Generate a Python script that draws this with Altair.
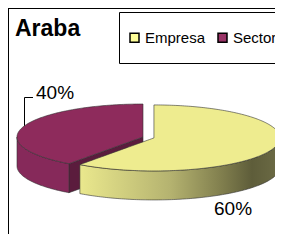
import numpy as np
import pandas as pd
import altair as alt

# ---- data ----
categories = ["Empresa", "Sector"]
shares = [60, 40]
labels = ["60%", "40%"]
chart_title = "Araba"

# ---- style ----
FONT = "Liberation Sans"
LEGEND_COLORS = ["#FFFF99", "#993366"]
TOP_COLORS = {"Empresa": "#EEEC8F", "Sector": "#8E2B5C"}
SIDE_FILLS = {
    "Empresa": alt.LinearGradient(
        gradient="linear", x1=0, x2=1, y1=0, y2=0,
        stops=[alt.GradientStop(color="#EAE88D", offset=0),
               alt.GradientStop(color="#B5B370", offset=0.45),
               alt.GradientStop(color="#7E7C4C", offset=0.72),
               alt.GradientStop(color="#5E5D3A", offset=0.86),
               alt.GradientStop(color="#6C6B45", offset=1)]),
    "Sector": "#86295A",
}
CUT_COLORS = {"Empresa": "#B8B670", "Sector": "#5B1C3D"}
EXPLODE = {"Empresa": 11.5, "Sector": 0.0}
CX, CY, A, B, DEPTH = 143.0, 137.0, 126.0, 33.0, 29.0
LABEL_POS = {"Empresa": (214, 215), "Sector": (36, 99)}
LEADER = {"Sector": (33.0, 97.5, 24.5)}   # text-end x, elbow y, elbow x
OUTLINE = "#333333"

W, H = 267, 226
xs_scale = alt.Scale(domain=[8, 8 + W], nice=False, zero=False)
ys_scale = alt.Scale(domain=[8, 8 + H], nice=False, zero=False, reverse=True)


def pt(cx, cy, phi):
    r = np.radians(phi)
    return cx + A * np.sin(r), cy - B * np.cos(r)


def arc(cx, cy, a0, a1):
    n = max(2, int(np.ceil(abs(a1 - a0))) + 1)
    ph = np.linspace(a0, a1, n)
    return pt(cx, cy, ph)


def envelope(px, py):
    n = len(px)
    xs = np.unique(np.concatenate([px, px - 0.01, px + 0.01]))
    xs = xs[(xs >= px.min()) & (xs <= px.max())]
    rows = []
    for x in xs:
        ys = []
        for i in range(n):
            x1, y1, x2, y2 = px[i], py[i], px[(i + 1) % n], py[(i + 1) % n]
            if x < min(x1, x2) - 1e-6 or x > max(x1, x2) + 1e-6:
                continue
            if abs(x2 - x1) < 1e-9:
                ys += [y1, y2]
            else:
                ys.append(y1 + (y2 - y1) * (x - x1) / (x2 - x1))
        if ys:
            rows.append((x, min(ys), max(ys)))
    return pd.DataFrame(rows, columns=["x", "y", "y2"])


def area_layer(df, fill):
    return alt.Chart(df).mark_area(
        color=fill, stroke=OUTLINE, strokeWidth=0.6, interpolate="linear"
    ).encode(
        x=alt.X("x:Q", scale=xs_scale, axis=None),
        y=alt.Y("y:Q", scale=ys_scale, axis=None),
        y2="y2:Q",
    )


# ---- slice geometry from shares ----
total = float(sum(shares))
start = 0.0
slices = []
for cat, v, lab in zip(categories, shares, labels):
    s, e = start, start + 360.0 * v / total
    start = e
    m = (s + e) / 2
    ex = EXPLODE[cat]
    cx = CX + ex * np.sin(np.radians(m))
    cy = CY - ex * np.cos(np.radians(m)) * B / A
    slices.append(dict(cat=cat, s=s, e=e, m=m, cx=cx, cy=cy, label=lab))

slices.sort(key=lambda d: -np.cos(np.radians(d["m"])))

layers = []

# frame and legend box
one = pd.DataFrame({"k": [0]})
layers.append(alt.Chart(one).mark_rule(color="black", strokeWidth=1).encode(
    x=alt.value(0.5), y=alt.value(0), y2=alt.value(H)))
layers.append(alt.Chart(one).mark_rule(color="black", strokeWidth=1).encode(
    y=alt.value(0.5), x=alt.value(0), x2=alt.value(W)))
layers.append(alt.Chart(one).mark_rect(fill="white", stroke="black", strokeWidth=1).encode(
    x=alt.value(111.5), x2=alt.value(W + 5), y=alt.value(4.5), y2=alt.value(55.5)))

for sl in slices:
    cat, s, e, cx, cy = sl["cat"], sl["s"], sl["e"], sl["cx"], sl["cy"]
    # visible cut faces
    for ang, vis in ((s, -np.sin(np.radians(s))), (e, np.sin(np.radians(e)))):
        if vis > 1e-6:
            px, py = pt(cx, cy, ang)
            df = pd.DataFrame({"x": [px, cx], "y": [py, cy]})
            df["y2"] = df["y"] + DEPTH
            layers.append(area_layer(df, CUT_COLORS[cat]))
    # outer side band (front half only)
    a0, a1 = max(s, 90.0), min(e, 270.0)
    if a1 > a0:
        px, py = arc(cx, cy, a0, a1)
        df = pd.DataFrame({"x": px, "y": py, "y2": py + DEPTH})
        layers.append(area_layer(df, SIDE_FILLS[cat]))
    # top face
    ax, ay = arc(cx, cy, s, e)
    px = np.concatenate([[cx], ax])
    py = np.concatenate([[cy], ay])
    layers.append(area_layer(envelope(px, py), TOP_COLORS[cat]))

# leader lines
lead_rows = []
for sl in slices:
    if sl["cat"] in LEADER:
        tx, ey, exx = LEADER[sl["cat"]]
        yy = sl["cy"] - B * np.sqrt(max(0.0, 1 - ((exx - sl["cx"]) / A) ** 2))
        lead_rows += [(sl["cat"], 0, tx, ey), (sl["cat"], 1, exx, ey), (sl["cat"], 2, exx, yy)]
if lead_rows:
    ld = pd.DataFrame(lead_rows, columns=["cat", "o", "x", "y"])
    layers.append(alt.Chart(ld).mark_line(color="black", strokeWidth=1).encode(
        x=alt.X("x:Q", scale=xs_scale, axis=None),
        y=alt.Y("y:Q", scale=ys_scale, axis=None),
        order="o:Q", detail="cat:N"))

# percentage labels
lab_df = pd.DataFrame({
    "label": [sl["label"] for sl in slices],
    "x": [LABEL_POS[sl["cat"]][0] for sl in slices],
    "y": [LABEL_POS[sl["cat"]][1] for sl in slices],
})
layers.append(alt.Chart(lab_df).mark_text(
    font=FONT, fontSize=19, color="black", align="left", baseline="alphabetic"
).encode(
    x=alt.X("x:Q", scale=xs_scale, axis=None),
    y=alt.Y("y:Q", scale=ys_scale, axis=None),
    text="label:N"))

# title
layers.append(alt.Chart(pd.DataFrame({"t": [chart_title]})).mark_text(
    font=FONT, fontSize=23, fontWeight="bold", color="black", align="left", baseline="alphabetic"
).encode(x=alt.value(7), y=alt.value(28), text="t:N"))

# legend (driven by categories)
leg = pd.DataFrame({"cat": categories})
layers.append(alt.Chart(leg).mark_square(opacity=0, size=1).encode(
    x=alt.value(0), y=alt.value(0),
    color=alt.Color("cat:N", scale=alt.Scale(domain=categories, range=LEGEND_COLORS),
                    legend=alt.Legend(
                        orient="none", legendX=119, legendY=22, direction="horizontal",
                        title=None, symbolType="square", symbolSize=81,
                        symbolStrokeColor="black", symbolStrokeWidth=1.5, symbolOpacity=1,
                        labelFont=FONT, labelFontSize=15, labelColor="black",
                        labelOffset=3, columnPadding=9, padding=0))))

chart = alt.layer(*layers).properties(
    width=W, height=H, padding=0, autosize="none"
).configure_view(strokeWidth=0)

chart.save("out.html", embed_options={"renderer": "svg", "actions": False})
